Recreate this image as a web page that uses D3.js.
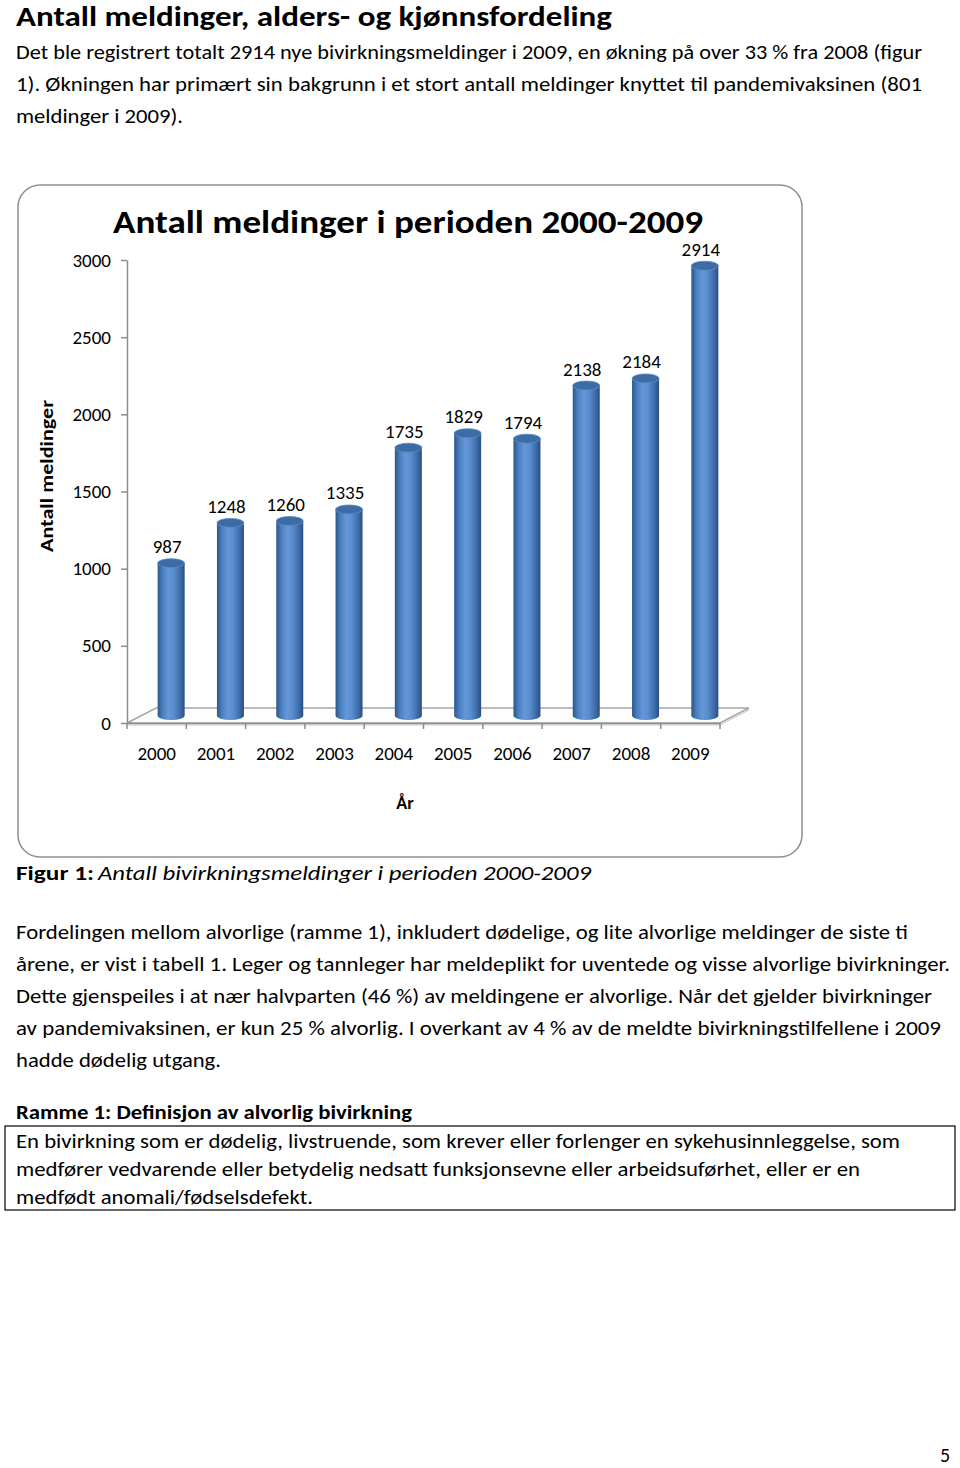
<!DOCTYPE html>
<html>
<head>
<meta charset="utf-8">
<script src="https://cdn.jsdelivr.net/npm/d3@7"></script>
<style>
  body { margin: 0; background: #fff; }
  svg { display: block; font-family: Carlito, Lato, "Open Sans", sans-serif; }
</style>
</head>
<body>
<div id="page"></div>
<script>
// chart data
const years = ['2000', '2001', '2002', '2003', '2004', '2005', '2006', '2007', '2008', '2009'];
const counts = [987, 1248, 1260, 1335, 1735, 1829, 1794, 2138, 2184, 2914];
const yTicks = [0, 500, 1000, 1500, 2000, 2500, 3000];

// page text
const introLines = [
  'Det ble registrert totalt 2914 nye bivirkningsmeldinger i 2009, en økning på over 33 % fra 2008 (figur',
  '1). Økningen har primært sin bakgrunn i et stort antall meldinger knyttet til pandemivaksinen (801',
  'meldinger i 2009).'
];
const bodyLines = [
  'Fordelingen mellom alvorlige (ramme 1), inkludert dødelige, og lite alvorlige meldinger de siste ti',
  'årene, er vist i tabell 1. Leger og tannleger har meldeplikt for uventede og visse alvorlige bivirkninger.',
  'Dette gjenspeiles i at nær halvparten (46 %) av meldingene er alvorlige. Når det gjelder bivirkninger',
  'av pandemivaksinen, er kun 25 % alvorlig.  I overkant av 4 % av de meldte bivirkningstilfellene i 2009',
  'hadde dødelig utgang.'
];
const boxLines = [
  'En bivirkning som er dødelig, livstruende, som krever eller forlenger en sykehusinnleggelse, som',
  'medfører vedvarende eller betydelig nedsatt funksjonsevne eller arbeidsuførhet, eller er en',
  'medfødt anomali/fødselsdefekt.'
];

const W = 960, H = 1468;
const svg = d3.select('#page').append('svg')
  .attr('width', W)
  .attr('height', H);

svg.append('rect').attr('width', W).attr('height', H).attr('fill', '#fff');

// helper for fitted text lines
function textLine(x, y, str, size, len, weight, style) {
  const t = svg.append('text')
    .attr('x', x)
    .attr('y', y)
    .style('font-size', size + 'px')
    .style('fill', '#000')
    .text(str);
  if (weight) t.style('font-weight', weight);
  if (style) t.style('font-style', style);
  if (len) t.attr('textLength', len).attr('lengthAdjust', 'spacingAndGlyphs');
  return t;
}

// heading + intro
textLine(16, 26, 'Antall meldinger, alders- og kjønnsfordeling', 28, 596, 'bold');
const introLens = [906, 906, 167];
introLines.forEach((l, i) => textLine(16, 59 + i * 32, l, 20, introLens[i]));

// chart frame
svg.append('rect')
  .attr('x', 18).attr('y', 185)
  .attr('width', 784).attr('height', 672)
  .attr('rx', 22).attr('ry', 22)
  .attr('fill', '#fff')
  .attr('stroke', '#8f8f8f')
  .attr('stroke-width', 1.5);

// scales
const x = d3.scaleBand().domain(years).range([127, 720]).padding(0);
const y = d3.scaleLinear().domain([0, 3000]).range([723, 260]);
const depthX = 29, depthY = -15;   // 3d floor depth
const barW = 27;

const defs = svg.append('defs');
const grad = defs.append('linearGradient').attr('id', 'cyl').attr('x1', '0%').attr('x2', '100%');
[['0%', '#2b5689'], ['18%', '#4a7ebf'], ['40%', '#6597d8'], ['60%', '#5a8dcf'], ['85%', '#3c6aa6'], ['100%', '#284f80']]
  .forEach(s => grad.append('stop').attr('offset', s[0]).attr('stop-color', s[1]));

const g = svg.append('g');

// floor
const x0 = x.range()[0], x1 = x.range()[1], yb = y(0);
g.append('path')
  .attr('d', `M${x0},${yb} L${x0 + depthX},${yb + depthY} L${x1 + depthX},${yb + depthY} L${x1},${yb} Z`)
  .attr('fill', '#fdfdfd')
  .attr('stroke', '#a6a6a6')
  .attr('stroke-width', 1.5);
g.append('path')
  .attr('d', `M${x0},${yb + 2} L${x1},${yb + 2} L${x1 + depthX},${yb + depthY + 2}`)
  .attr('fill', 'none')
  .attr('stroke', '#c8c8c8')
  .attr('stroke-width', 1);

// y axis
const yAxis = d3.axisLeft(y).tickValues(yTicks).tickFormat(d3.format('d'))
  .tickSize(6).tickPadding(10).tickSizeOuter(0);
const yg = g.append('g').attr('transform', `translate(${x0},0)`).call(yAxis);
yg.select('.domain').attr('stroke', '#8c8c8c').attr('stroke-width', 1.5);
yg.selectAll('.tick line').attr('stroke', '#8c8c8c').attr('stroke-width', 1.5);
yg.selectAll('.tick text').style('font-size', '19px').style('fill', '#000')
  .style('font-family', 'Carlito, Lato, sans-serif');

// x axis ticks at band boundaries
const xAxis = d3.axisBottom(x).tickSize(0).tickPadding(24);
const xg = g.append('g').attr('transform', `translate(0,${yb})`).call(xAxis);
xg.select('.domain').attr('stroke', '#8c8c8c').attr('stroke-width', 1.5);
xg.selectAll('.tick text').style('font-size', '19px').style('fill', '#000')
  .style('font-family', 'Carlito, Lato, sans-serif');
g.selectAll('.xbound')
  .data(d3.range(years.length + 1))
  .enter().append('line')
  .attr('x1', i => x0 + i * x.bandwidth())
  .attr('x2', i => x0 + i * x.bandwidth())
  .attr('y1', yb)
  .attr('y2', yb + 6)
  .attr('stroke', '#8c8c8c')
  .attr('stroke-width', 1.5);

// cylinders
const ry = 4.5;
const bars = g.selectAll('.bar')
  .data(years.map((yr, i) => ({ yr, v: counts[i] })))
  .enter().append('g').attr('class', 'bar');

const cx = d => x(d.yr) + x.bandwidth() / 2 + depthX / 2;
const barBase = y(0) + depthY / 2;
const barTop = d => y(d.v) + depthY / 2;

bars.append('path')
  .attr('d', d => {
    const l = cx(d) - barW / 2, r = cx(d) + barW / 2, t = barTop(d);
    return `M${l},${t} L${l},${barBase} A${barW / 2},${ry} 0 0 0 ${r},${barBase} L${r},${t} Z`;
  })
  .attr('fill', 'url(#cyl)');

bars.append('ellipse')
  .attr('cx', cx)
  .attr('cy', barTop)
  .attr('rx', barW / 2)
  .attr('ry', ry)
  .attr('fill', '#3d6ba6')
  .attr('stroke', '#5b8ccb')
  .attr('stroke-width', 0.8);

bars.append('text')
  .attr('x', d => cx(d) - 4)
  .attr('y', d => barTop(d) - 10)
  .attr('text-anchor', 'middle')
  .style('font-size', '19px')
  .style('fill', '#000')
  .text(d => d.v);

// titles
svg.append('text')
  .attr('x', 113).attr('y', 233)
  .attr('textLength', 590).attr('lengthAdjust', 'spacingAndGlyphs')
  .style('font-size', '32px').style('font-weight', 'bold')
  .text('Antall meldinger i perioden 2000-2009');

svg.append('text')
  .attr('x', 405).attr('y', 809)
  .attr('text-anchor', 'middle')
  .style('font-size', '18px').style('font-weight', 'bold')
  .text('År');

svg.append('text')
  .attr('transform', 'translate(53,476) rotate(-90)')
  .attr('text-anchor', 'middle')
  .attr('textLength', 152).attr('lengthAdjust', 'spacingAndGlyphs')
  .style('font-size', '18px').style('font-weight', 'bold')
  .text('Antall meldinger');

// caption
textLine(16, 880, 'Figur 1:', 20, 78, 'bold');
textLine(98, 880, 'Antall bivirkningsmeldinger i perioden 2000-2009', 20, 493, null, 'italic');

// body paragraph
const bodyLens = [892, 934, 916, 925, 205];
bodyLines.forEach((l, i) => textLine(16, 939 + i * 32, l, 20, bodyLens[i]));

// ramme 1
textLine(16, 1119, 'Ramme 1: Definisjon av alvorlig bivirkning', 20, 396, 'bold');
svg.append('rect')
  .attr('x', 5).attr('y', 1126)
  .attr('width', 950).attr('height', 84)
  .attr('fill', 'none')
  .attr('stroke', '#000')
  .attr('stroke-width', 1.2);
const boxLens = [884, 844, 297];
boxLines.forEach((l, i) => textLine(16, 1148 + i * 28, l, 20, boxLens[i]));

// page number
textLine(940, 1462, '5', 20);
</script>
</body>
</html>
